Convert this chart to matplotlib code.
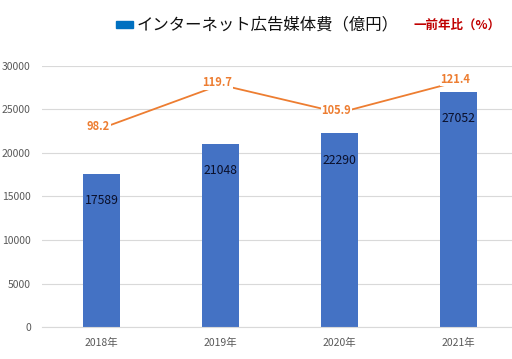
import matplotlib
matplotlib.use("Agg")
import matplotlib.pyplot as plt
from matplotlib.patches import Rectangle

plt.rcParams['font.family'] = ['Noto Sans CJK JP', 'DejaVu Sans']

years = ['2018年', '2019年', '2020年', '2021年']
ad_spend = [17589, 21048, 22290, 27052]
yoy = [98.2, 119.7, 105.9, 121.4]
y_ticks = [0, 5000, 10000, 15000, 20000, 25000, 30000]

bar_color = '#4472C4'
line_color = '#ED7D31'

fig = plt.figure(figsize=(5.12, 3.59), dpi=100)
ax = fig.add_axes([42 / 512, 32 / 359, 1 - 42 / 512, 261 / 359])

x = list(range(len(years)))
ax.bar(x, ad_spend, width=0.31, color=bar_color, zorder=2)
for xi, v in zip(x, ad_spend):
    ax.annotate(str(v), (xi, v), xytext=(0, -27), textcoords='offset pixels',
                ha='center', va='center', fontsize=8.8, color='#0a0f2a', zorder=3)

ax.set_xlim(-0.5, 3.45)
ax.set_ylim(0, 30000)
ax.set_yticks(y_ticks)
ax.set_xticks(x)
ax.set_xticklabels(years)
ax.tick_params(axis='both', length=0, labelsize=7.5, labelcolor='#595959')
ax.tick_params(axis='y', pad=8)
ax.tick_params(axis='x', pad=8)
ax.grid(axis='y', color='#d9d9d9', linewidth=0.8, zorder=0)
for s in ['left', 'right', 'top']:
    ax.spines[s].set_visible(False)
ax.spines['bottom'].set_color('#d9d9d9')

ax2 = ax.twinx()
ax2.plot(x, yoy, color=line_color, linewidth=1.3, zorder=2)
for xi, v in zip(x, yoy):
    ax2.annotate(f'{v:.1f}', (xi, v), xytext=(-3, 2), textcoords='offset pixels',
                 ha='center', va='center', fontsize=8, color=line_color,
                 fontweight='bold', zorder=3,
                 bbox=dict(boxstyle='square,pad=0.05', fc='white', ec='none'))
ax2.set_ylim(0, 129)
ax2.set_xlim(-0.5, 3.45)
ax2.axis('off')

# legend drawn as header
fig.patches.append(Rectangle((116 / 512, 1 - 28 / 359), 17 / 512, 7 / 359,
                             transform=fig.transFigure, color='#0070C0'))
fig.text(137 / 512, 1 - 25 / 359, 'インターネット広告媒体費（億円）', fontsize=11.8,
         ha='left', va='center', color='#111111')
fig.text(413 / 512, 1 - 25 / 359, '一前年比（%）', fontsize=9, fontweight='bold',
         ha='left', va='center', color='#C00000')

fig.savefig('out.png', dpi=100)
